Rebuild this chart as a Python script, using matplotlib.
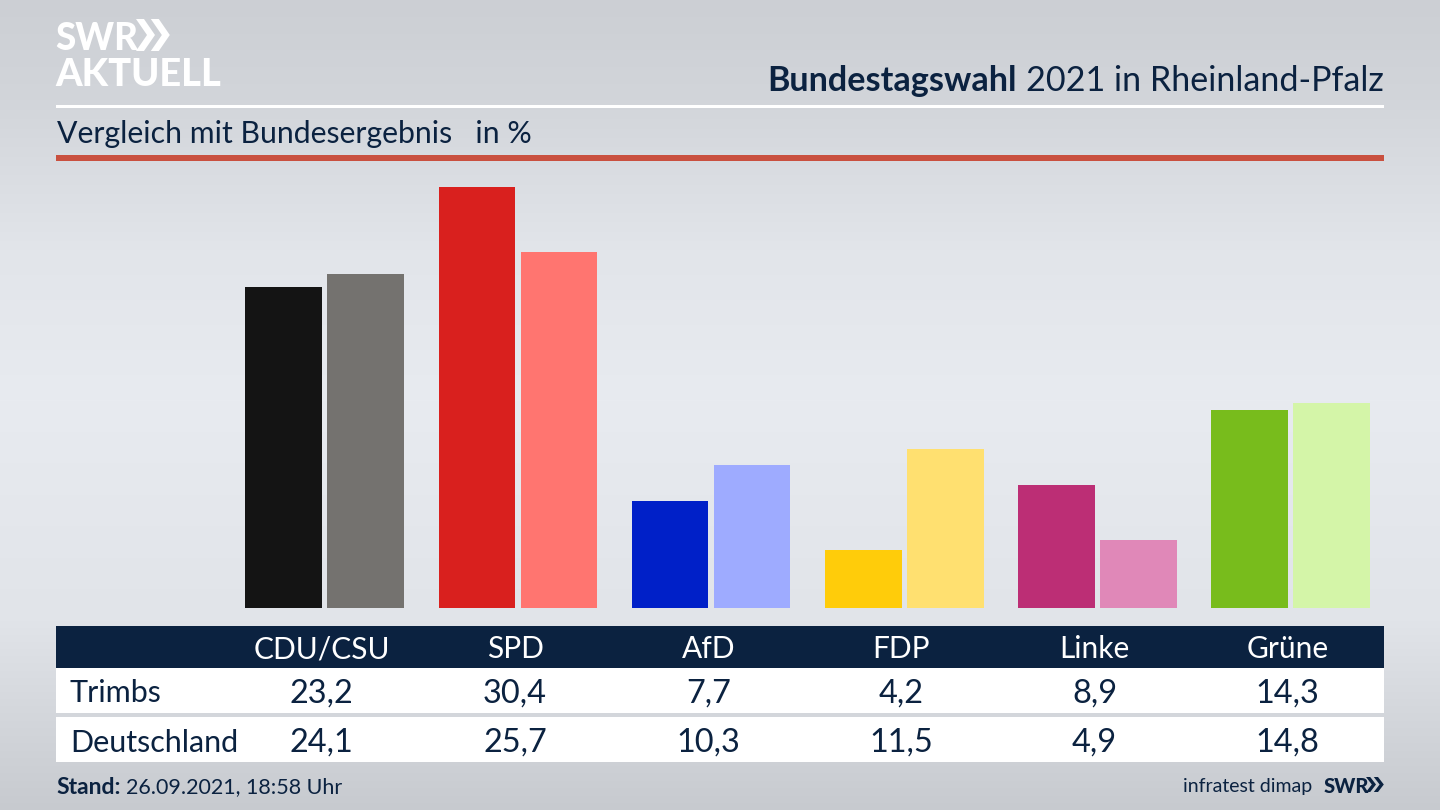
import numpy as np
import matplotlib
matplotlib.use('Agg')
import matplotlib.pyplot as plt
from matplotlib.patches import Rectangle, Polygon
from matplotlib.transforms import blended_transform_factory

plt.rcParams['font.family'] = ['Lato', 'DejaVu Sans']

parties = ['CDU/CSU', 'SPD', 'AfD', 'FDP', 'Linke', 'Grüne']
trimbs = [23.2, 30.4, 7.7, 4.2, 8.9, 14.3]
deutschland = [24.1, 25.7, 10.3, 11.5, 4.9, 14.8]
trimbs_colors = ['#141414', '#d9201e', '#0020c8', '#ffcc0a', '#bc2e75', '#78bc1c']
deutschland_colors = ['#74726f', '#ff7570', '#9eabff', '#ffe070', '#e088b8', '#d4f5a8']

NAVY = '#0b2240'
W, H = 1440, 810
STEP = 193.2


def fmt(v):
    return f'{v:.1f}'.replace('.', ',')


def chevrons(ax, x, y, h, w, color):
    # the two arrows of the logo
    for dx in (0, w * 0.78):
        ax.add_patch(Polygon([(x + dx, y), (x + dx + w * 0.42, y), (x + dx + w, y + h / 2),
                              (x + dx + w * 0.42, y + h), (x + dx, y + h), (x + dx + w * 0.58, y + h / 2)],
                             closed=True, fc=color, ec='none', zorder=3))


fig = plt.figure(figsize=(14.4, 8.1), dpi=100)

# background and everything placed in pixels
bg = fig.add_axes([0, 0, 1, 1])
bg.set_xlim(0, W)
bg.set_ylim(H, 0)
bg.axis('off')
stops_y = [0, 100, 250, 400, 620, 720, 810]
stops_c = [204, 210, 226, 232, 225, 211, 199]
grad = np.interp(np.arange(H), stops_y, stops_c)
rgb = np.stack([grad, grad + 3, grad + 8], axis=1)[:, None, :] / 255
bg.imshow(np.clip(rgb, 0, 1), extent=[0, W, H, 0], aspect='auto', zorder=0)

# header
bg.text(55, 36, 'SWR', color='white', fontsize=26.5, fontweight='black', va='center_baseline', ha='left', zorder=3)
chevrons(bg, 136, 19, 32, 19, 'white')
bg.text(55, 72, 'AKTUELL', color='white', fontsize=27.4, fontweight='black', va='center_baseline', ha='left', zorder=3)
title_end = bg.text(1384, 78, '2021 in Rheinland-Pfalz', color=NAVY, fontsize=24.6, va='center_baseline', ha='right', zorder=3)
fig.canvas.draw()
bb = title_end.get_window_extent()
bg.text(bb.x0 - 9, 78, 'Bundestagswahl', color=NAVY, fontsize=24.6, fontweight='bold', va='center_baseline', ha='right', zorder=3)
bg.add_patch(Rectangle((56, 104.5), 1328, 3, fc='white', ec='none', zorder=2))
bg.text(57, 132, 'Vergleich mit Bundesergebnis   in %', color=NAVY, fontsize=21.8, va='center_baseline', ha='left', zorder=3)
bg.add_patch(Rectangle((56, 155), 1328, 5.5, fc='#c9503f', ec='none', zorder=2))

# bars
ax = fig.add_axes([56 / W, 1 - 608 / H, 1328 / W, 438 / H])
ax.patch.set_alpha(0)
ax.set_xlim(-268.7 / STEP, (1384 - 324.7) / STEP)
ax.set_ylim(0, 438 / 13.85)
ax.axis('off')
x = np.arange(len(parties))
ax.bar(x - 0.2124, trimbs, width=0.397, color=trimbs_colors)
ax.bar(x + 0.2124, deutschland, width=0.397, color=deutschland_colors)

# table
bg.add_patch(Rectangle((56, 626), 1328, 42, fc=NAVY, ec='none', zorder=2))
bg.add_patch(Rectangle((56, 668), 1328, 45, fc='white', ec='none', zorder=2))
bg.add_patch(Rectangle((56, 717), 1328, 45, fc='white', ec='none', zorder=2))
bg.text(70, 691, 'Trimbs', color=NAVY, fontsize=22, va='center_baseline', zorder=3)
bg.text(70, 740, 'Deutschland', color=NAVY, fontsize=22, va='center_baseline', zorder=3)
col = blended_transform_factory(ax.transData, bg.transData)
for i, party in enumerate(parties):
    ax.text(i - 0.015, 647, party, color='white', fontsize=21.5, ha='center', va='center_baseline', transform=col, clip_on=False)
    ax.text(i - 0.015, 691, fmt(trimbs[i]), color=NAVY, fontsize=23.4, ha='center', va='center_baseline', transform=col, clip_on=False)
    ax.text(i - 0.015, 740, fmt(deutschland[i]), color=NAVY, fontsize=23.4, ha='center', va='center_baseline', transform=col, clip_on=False)

# footer
bg.text(56, 785, 'Stand:', color=NAVY, fontsize=16.5, fontweight='bold', va='center_baseline', zorder=3)
bg.text(126, 785, '26.09.2021, 18:58 Uhr', color=NAVY, fontsize=15.5, va='center_baseline', zorder=3)
bg.text(1312, 785, 'infratest dimap', color=NAVY, fontsize=14, va='center_baseline', ha='right', zorder=3)
bg.text(1324, 785, 'SWR', color=NAVY, fontsize=14.5, fontweight='black', va='center_baseline', ha='left', zorder=3)
chevrons(bg, 1366, 777, 15, 10, NAVY)

fig.savefig('out.png', dpi=100)
